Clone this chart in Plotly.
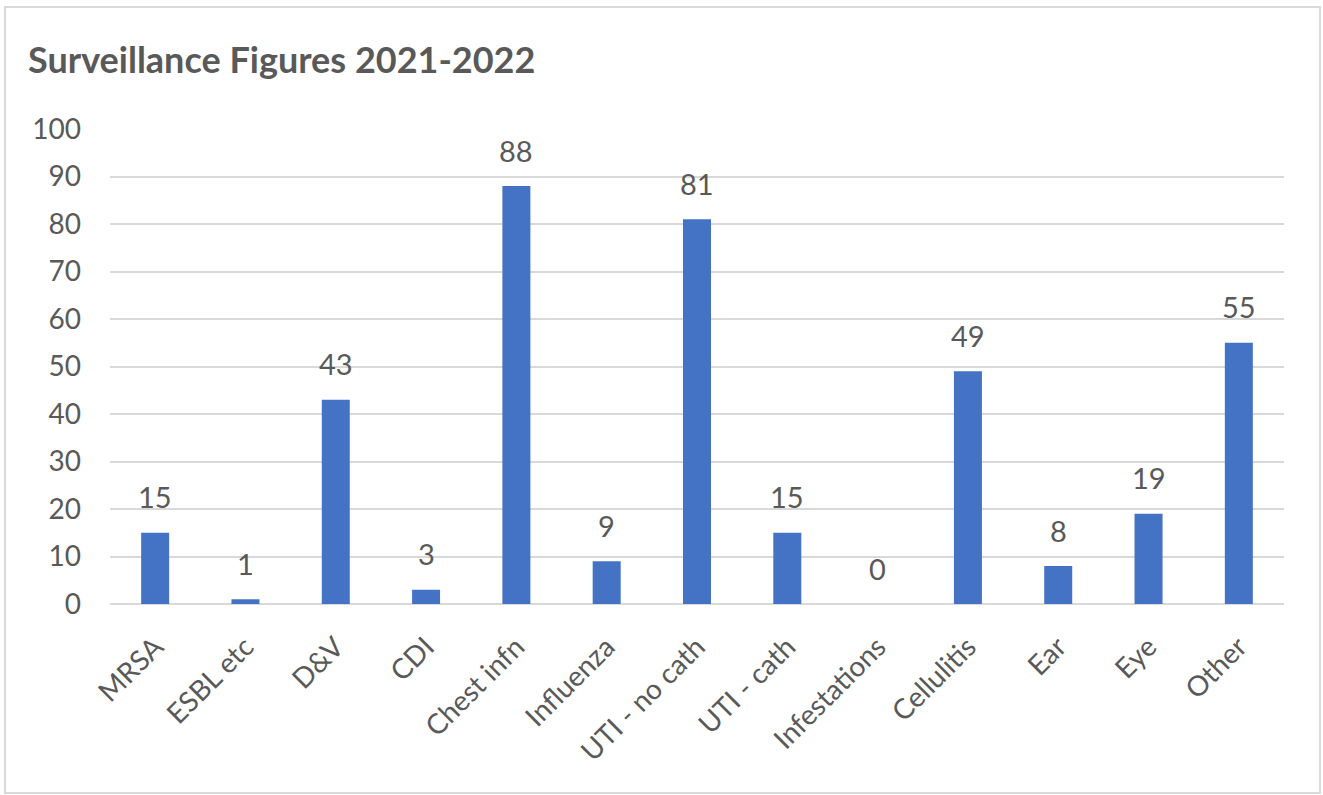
import plotly.graph_objects as go

categories = ["MRSA", "ESBL etc", "D&V", "CDI", "Chest infn", "Influenza",
              "UTI - no cath", "UTI - cath", "Infestations", "Cellulitis",
              "Ear", "Eye", "Other"]
values = [15, 1, 43, 3, 88, 9, 81, 15, 0, 49, 8, 19, 55]
y_ticks = list(range(0, 101, 10))
title_text = "Surveillance Figures 2021-2022"

W, H = 1323, 795
L, R, T, B = 110, 39, 129, 191
pw = W - L - R
ph = H - T - B

FONT = "Lato, Open Sans, sans-serif"
GRAY = "#595959"

fig = go.Figure(go.Bar(
    x=categories, y=values,
    marker=dict(color="#4472C4", line=dict(width=0)),
    cliponaxis=False,
    hoverinfo="x+y",
))

for c, v in zip(categories, values):
    fig.add_annotation(x=c, y=v, text=str(v), showarrow=False,
                       xref="x", yref="y", yanchor="middle", yshift=36,
                       font=dict(family=FONT, size=29, color=GRAY))


def px_x(x):
    return (x - L) / pw


def px_y(y):
    return 1 - (y - T) / ph


fig.add_shape(type="rect", xref="paper", yref="paper",
              x0=px_x(5), x1=px_x(1320), y0=px_y(793), y1=px_y(7),
              line=dict(color="#d9d9d9", width=2), fillcolor="rgba(0,0,0,0)",
              layer="below")

fig.update_layout(
    width=W, height=H,
    margin=dict(l=L, r=R, t=T, b=B),
    paper_bgcolor="white", plot_bgcolor="white",
    bargap=0.69,
    showlegend=False,
    title=dict(text="<b>" + title_text + "</b>", x=28 / W, xanchor="left",
               y=1 - 60 / H, yanchor="middle", yref="container", xref="container",
               font=dict(family=FONT, size=36, color=GRAY)),
    xaxis=dict(tickangle=-45, tickfont=dict(family=FONT, size=28, color=GRAY),
               showline=False, ticks="", showgrid=False, ticklabelstandoff=20),
    yaxis=dict(range=[0, 100], tickvals=y_ticks, showgrid=True,
               gridcolor="#d9d9d9", gridwidth=2, zeroline=True,
               zerolinecolor="#d9d9d9", zerolinewidth=2,
               tickfont=dict(family=FONT, size=28, color=GRAY),
               ticks="", showline=False, ticklabelstandoff=28),
)

fig.write_html("out.html")
